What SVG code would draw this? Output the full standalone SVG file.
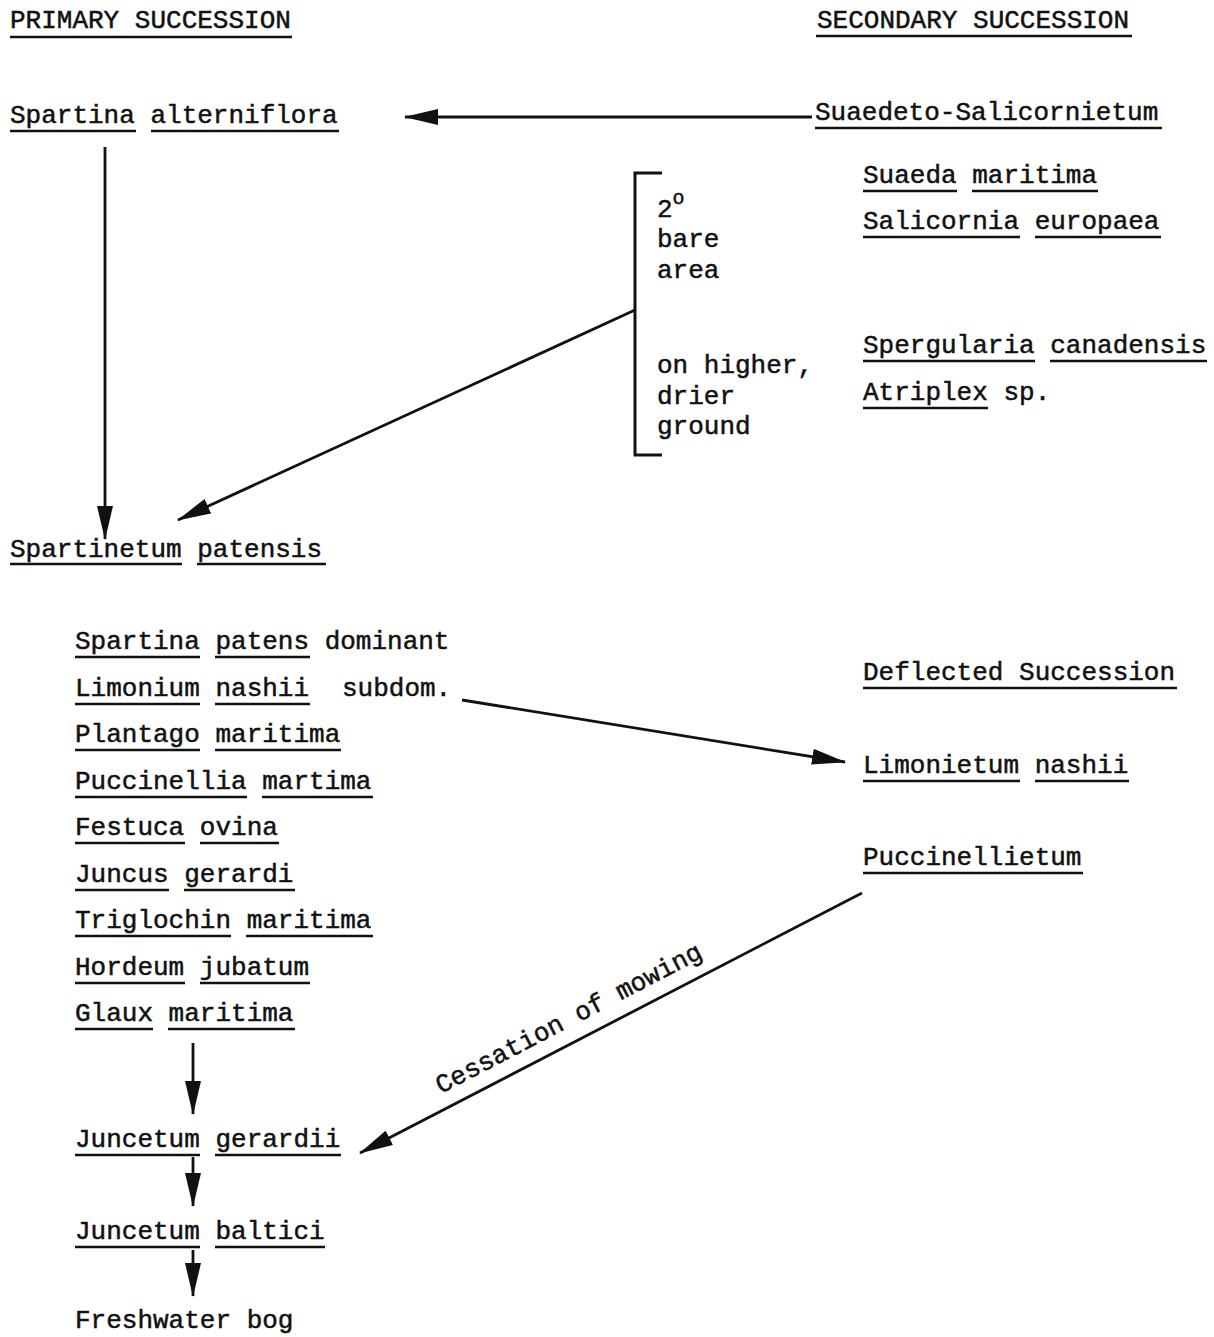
<svg xmlns="http://www.w3.org/2000/svg" width="1214" height="1337" viewBox="0 0 1214 1337">
<defs>
<style>
text{font-family:"Liberation Mono","Courier New",monospace;font-size:26px;fill:#111;stroke:#111;stroke-width:0.5}
.ul{stroke:#111;stroke-width:2.5;fill:none}
.conn{stroke:#111;stroke-width:2.8;fill:none;marker-end:url(#ah)}
.br{stroke:#111;stroke-width:3;fill:none}
</style>
<marker id="ah" viewBox="0 0 34 16" refX="33" refY="8" markerWidth="34" markerHeight="16" markerUnits="userSpaceOnUse" orient="auto">
<path d="M0,0 L34,8 L0,16 Z" fill="#111"/>
</marker>
</defs>
<rect width="1214" height="1337" fill="#fff"/>

<g id="primary-title"><text x="10" y="28">PRIMARY SUCCESSION</text><path class="ul" d="M10,37H292"/></g>
<g id="secondary-title"><text x="817" y="28">SECONDARY SUCCESSION</text><path class="ul" d="M816,36H1132"/></g>

<g id="spartina-alterniflora"><text x="10" y="123">Spartina alterniflora</text><path class="ul" d="M10,131H136M151,131H339"/></g>
<g id="suaedeto"><text x="815" y="120">Suaedeto-Salicornietum</text><path class="ul" d="M815,128H1162"/></g>

<g id="bare-area-bracket">
<path class="br" d="M662,173H635V455H662"/>
<text x="657" y="217">2<tspan dy="-13" font-size="20">o</tspan></text>
<text x="657" y="247">bare</text>
<text x="657" y="278">area</text>
<text x="657" y="373">on higher,</text>
<text x="657" y="404">drier</text>
<text x="657" y="434">ground</text>
</g>

<g id="suaeda-group">
<text x="863" y="183">Suaeda maritima</text><path class="ul" d="M863,191H957M972,191H1098"/>
<text x="863" y="229">Salicornia europaea</text><path class="ul" d="M863,237H1020M1035,237H1161"/>
<text x="863" y="353">Spergularia canadensis</text><path class="ul" d="M863,361H1035M1050,361H1207"/>
<text x="863" y="400">Atriplex sp.</text><path class="ul" d="M863,408H988"/>
</g>

<g id="spartinetum-patensis"><text x="10" y="557">Spartinetum patensis</text><path class="ul" d="M10,564H182M197,564H326"/></g>

<g id="species-list">
<text x="75" y="649">Spartina patens dominant</text><path class="ul" d="M75,657H200M215,657H310"/>
<text x="75" y="696">Limonium nashii<tspan x="342">subdom.</tspan></text><path class="ul" d="M75,704H200M215,704H310"/>
<text x="75" y="742">Plantago maritima</text><path class="ul" d="M75,750H200M215,750H341"/>
<text x="75" y="789">Puccinellia martima</text><path class="ul" d="M75,797H247M262,797H373"/>
<text x="75" y="835">Festuca ovina</text><path class="ul" d="M75,843H185M200,843H279"/>
<text x="75" y="882">Juncus gerardi</text><path class="ul" d="M75,890H169M184,890H295"/>
<text x="75" y="928">Triglochin maritima</text><path class="ul" d="M75,936H231M246,936H373"/>
<text x="75" y="975">Hordeum jubatum</text><path class="ul" d="M75,983H185M200,983H310"/>
<text x="75" y="1021">Glaux maritima</text><path class="ul" d="M75,1029H153M168,1029H295"/>
</g>

<g id="deflected-title"><text x="863" y="680">Deflected Succession</text><path class="ul" d="M863,688H1177"/></g>
<g id="limonietum"><text x="863" y="773">Limonietum nashii</text><path class="ul" d="M863,781H1020M1035,781H1129"/></g>
<g id="puccinellietum"><text x="863" y="865">Puccinellietum</text><path class="ul" d="M863,873H1083"/></g>

<g id="juncetum-gerardii"><text x="75" y="1147">Juncetum gerardii</text><path class="ul" d="M75,1155H200M215,1155H341"/></g>
<g id="juncetum-baltici"><text x="75" y="1239">Juncetum baltici</text><path class="ul" d="M75,1247H200M215,1247H325"/></g>
<g id="freshwater-bog"><text x="75" y="1328">Freshwater bog</text></g>

<g id="connectors">
<line class="conn" x1="812" y1="117" x2="405" y2="117"/>
<line class="conn" x1="105" y1="147" x2="105" y2="539"/>
<line class="conn" x1="635" y1="310" x2="178" y2="520"/>
<line class="conn" x1="462" y1="700" x2="845" y2="762"/>
<line class="conn" x1="862" y1="893" x2="360" y2="1153"/>
<line class="conn" x1="193" y1="1043" x2="193" y2="1114"/>
<line class="conn" x1="193" y1="1157" x2="193" y2="1206"/>
<line class="conn" x1="193" y1="1250" x2="193" y2="1296"/>
<text transform="translate(441,1094) rotate(-27.5)">Cessation of mowing</text>
</g>
</svg>
